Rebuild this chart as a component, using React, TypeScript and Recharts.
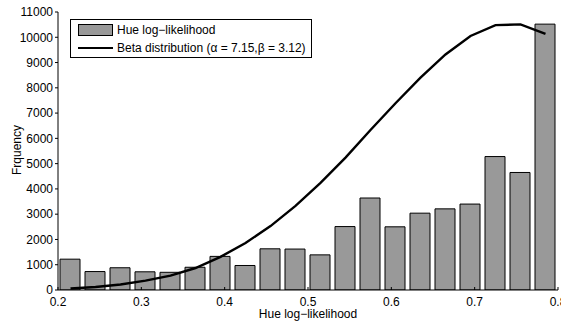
import React from 'react';
import { ComposedChart, Bar, Line, XAxis, YAxis } from 'recharts';

const binCenters = [0.215, 0.245, 0.275, 0.305, 0.335, 0.365, 0.395, 0.425, 0.455, 0.485, 0.515, 0.545, 0.575, 0.605, 0.635, 0.665, 0.695, 0.725, 0.755, 0.785];
const hueCounts = [1220, 730, 880, 720, 700, 900, 1330, 970, 1630, 1620, 1390, 2510, 3640, 2500, 3040, 3210, 3400, 5280, 4650, 10520];
const betaFit = [60, 120, 220, 370, 570, 870, 1310, 1860, 2530, 3330, 4240, 5240, 6330, 7390, 8400, 9320, 10050, 10480, 10510, 10130];
const xTicks = [0.2, 0.3, 0.4, 0.5, 0.6, 0.7, 0.8];
const yTicks = [0, 1000, 2000, 3000, 4000, 5000, 6000, 7000, 8000, 9000, 10000, 11000];

const seriesNames = ['Hue log\u2212likelihood', 'Beta distribution (\u03b1 = 7.15,\u03b2 = 3.12)'];
const xLabel = 'Hue log\u2212likelihood';
const yLabel = 'Frquency';

const data = binCenters.map((x, i) => ({ x, hue: hueCounts[i], beta: betaFit[i] }));

const FONT = '"Liberation Sans", Arial, Helvetica, sans-serif';
const tickStyle = { fill: '#000', fontSize: 12, fontFamily: FONT };

export default function App() {
  return (
    <div style={{ position: 'absolute', left: 0, top: 0, width: 561, height: 325, background: '#fff', overflow: 'hidden' }}>
      <ComposedChart width={561} height={325} data={data} margin={{ top: 12, right: 3, bottom: 0, left: 0 }} style={{ overflow: 'visible' }}>
        <XAxis
          dataKey="x"
          type="number"
          domain={[0.2, 0.8]}
          ticks={xTicks}
          interval={0}
          allowDataOverflow
          height={35}
          tickSize={-3}
          tickMargin={10}
          tick={tickStyle}
          stroke="#000"
          tickLine={{ stroke: '#000' }}
          axisLine={{ stroke: '#000' }}
          label={{
            content: () => (
              <text x={308} y={318} textAnchor="middle" fill="#000" fontSize={12} fontFamily={FONT}>{xLabel}</text>
            ),
          }}
        />
        <XAxis
          xAxisId="top"
          orientation="top"
          type="number"
          domain={[0.2, 0.8]}
          ticks={xTicks}
          interval={0}
          allowDataOverflow
          height={0}
          tickSize={-3}
          tickFormatter={() => ''}
          stroke="#000"
          axisLine={{ stroke: '#000' }}
        />
        <YAxis
          type="number"
          domain={[0, 11000]}
          ticks={yTicks}
          interval={0}
          allowDataOverflow
          width={58}
          tickSize={3}
          tickMargin={2}
          tick={tickStyle}
          stroke="#000"
          axisLine={{ stroke: '#000' }}
          label={{
            content: () => (
              <text x={17} y={150} transform="rotate(-90, 17, 150)" textAnchor="middle" dominantBaseline="central" fill="#000" fontSize={12} fontFamily={FONT}>{yLabel}</text>
            ),
          }}
        />
        <YAxis
          yAxisId="right"
          orientation="right"
          type="number"
          domain={[0, 11000]}
          ticks={yTicks}
          interval={0}
          allowDataOverflow
          width={0}
          tickSize={-3}
          tickFormatter={() => ''}
          stroke="#000"
          axisLine={{ stroke: '#000' }}
        />
        <Bar dataKey="hue" name={seriesNames[0]} barSize={20} fill="#999999" stroke="#000" strokeWidth={1} isAnimationActive={false} />
        <Line dataKey="beta" name={seriesNames[1]} type="linear" stroke="#000" strokeWidth={2.4} dot={false} activeDot={false} isAnimationActive={false} />
      </ComposedChart>
      <div
        style={{
          position: 'absolute', left: 70, top: 19, width: 242, height: 39, boxSizing: 'border-box',
          border: '1px solid #000', background: '#fff', fontFamily: FONT, fontSize: 12, color: '#000',
        }}
      >
        <div style={{ position: 'absolute', left: 7, top: 4, width: 35, height: 12, boxSizing: 'border-box', background: '#999999', border: '1px solid #000' }} />
        <div style={{ position: 'absolute', left: 46, top: 3, lineHeight: '14px', whiteSpace: 'nowrap' }}>{seriesNames[0]}</div>
        <div style={{ position: 'absolute', left: 7, top: 27, width: 35, height: 2, background: '#000' }} />
        <div style={{ position: 'absolute', left: 46, top: 21, lineHeight: '14px', whiteSpace: 'nowrap' }}>{seriesNames[1]}</div>
      </div>
    </div>
  );
}
